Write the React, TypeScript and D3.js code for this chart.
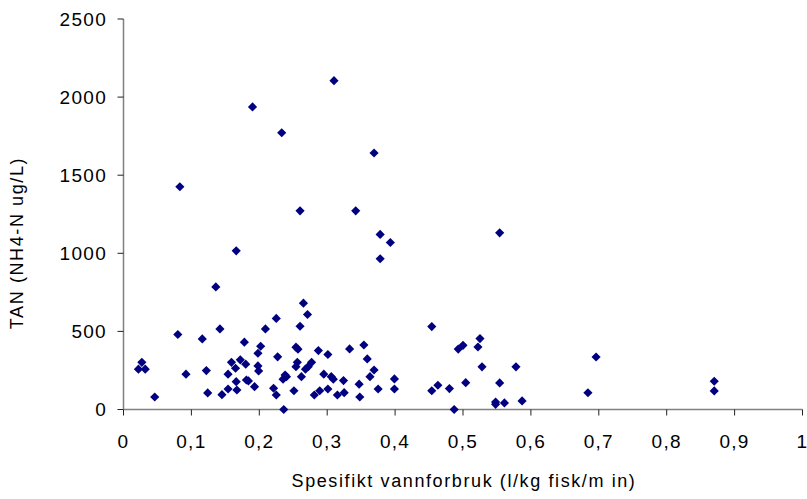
import React from "react";
import * as d3 from "d3";

const xValues: number[] = [
  0.310, 0.190, 0.233, 0.369, 0.083, 0.260, 0.342, 0.554, 0.378, 0.393,
  0.166, 0.378, 0.136, 0.265, 0.271, 0.225, 0.260, 0.209, 0.142, 0.454,
  0.080, 0.116, 0.525, 0.522, 0.500, 0.493, 0.178, 0.202, 0.354, 0.254,
  0.257, 0.287, 0.333, 0.301, 0.198, 0.227, 0.359, 0.696, 0.027, 0.022,
  0.032, 0.046, 0.092, 0.122, 0.124, 0.145, 0.154, 0.154, 0.159, 0.172,
  0.180, 0.165, 0.166, 0.167, 0.181, 0.184, 0.193, 0.198, 0.199, 0.221,
  0.225, 0.235, 0.238, 0.236, 0.240, 0.256, 0.254, 0.277, 0.272, 0.268,
  0.262, 0.295, 0.306, 0.309, 0.324, 0.251, 0.281, 0.289, 0.301, 0.315,
  0.325, 0.347, 0.348, 0.369, 0.363, 0.375, 0.399, 0.399, 0.454, 0.463,
  0.480, 0.487, 0.504, 0.554, 0.528, 0.578, 0.548, 0.548, 0.561, 0.587,
  0.684, 0.870, 0.870,
];

const yValues: number[] = [
  2105, 1937, 1772, 1642, 1426, 1272, 1272, 1131, 1121, 1069,
  1016, 965, 785, 681, 608, 583, 533, 516, 516, 531,
  480, 452, 454, 400, 411, 387, 431, 405, 413, 399,
  386, 377, 388, 352, 360, 337, 324, 336, 302, 258,
  258, 80, 226, 249, 106, 95, 226, 131, 302, 318,
  290, 264, 178, 125, 189, 183, 146, 279, 247, 136,
  93, 194, 221, 0, 210, 302, 274, 302, 274, 258,
  210, 226, 210, 194, 185, 120, 93, 120, 131, 93,
  108, 162, 80, 253, 210, 131, 196, 131, 120, 155,
  134, 0, 172, 170, 273, 273, 33, 48, 42, 55,
  107, 181, 119,
];

const xTicks: number[] = [0, 0.1, 0.2, 0.3, 0.4, 0.5, 0.6, 0.7, 0.8, 0.9, 1];
const xTickLabels: string[] = ["0", "0,1", "0,2", "0,3", "0,4", "0,5", "0,6", "0,7", "0,8", "0,9", "1"];
const yTicks: number[] = [0, 500, 1000, 1500, 2000, 2500];
const yTickLabels: string[] = ["0", "500", "1000", "1500", "2000", "2500"];

const xTitle = "Spesifikt vannforbruk (l/kg fisk/m in)";
const yTitle = "TAN (NH4-N ug/L)";

export default function App() {
  const W = 807;
  const H = 499;
  const x = d3.scaleLinear().domain([0, 1]).range([123.5, 802.5]);
  const y = d3.scaleLinear().domain([0, 2500]).range([409.5, 19]);
  const diamond = d3.symbol().type(d3.symbolSquare).size(42)() as string;
  const font = "'Liberation Sans', Arial, sans-serif";
  const points = xValues.map((v, i) => [v, yValues[i]] as [number, number]);

  return (
    <svg
      width={W}
      height={H}
      style={{ position: "absolute", left: 0, top: 0, background: "#fff" }}
      fontFamily={font}
    >
      <rect x={0} y={0} width={W} height={H} fill="#fff" />
      {/* y axis */}
      <line x1={x(0)} x2={x(0)} y1={y(2500)} y2={y(0)} stroke="#808080" strokeWidth={1.5} />
      {yTicks.map((t, i) => (
        <g key={"yt" + i}>
          <line x1={x(0) - 6} x2={x(0)} y1={y(t)} y2={y(t)} stroke="#222" strokeWidth={1} />
          <text
            x={107}
            y={y(t)}
            dy="0.36em"
            textAnchor="end"
            fontSize={19}
            letterSpacing={1.3}
            fill="#000"
          >
            {yTickLabels[i]}
          </text>
        </g>
      ))}
      {/* x axis */}
      <line x1={x(0)} x2={x(1)} y1={y(0)} y2={y(0)} stroke="#808080" strokeWidth={1.5} />
      {xTicks.map((t, i) => (
        <g key={"xt" + i}>
          <line x1={x(t)} x2={x(t)} y1={y(0)} y2={y(0) + 6} stroke="#222" strokeWidth={1} />
          <text
            x={x(t)}
            y={448}
            textAnchor="middle"
            fontSize={19}
            letterSpacing={1.3}
            fill="#000"
          >
            {xTickLabels[i]}
          </text>
        </g>
      ))}
      {/* points */}
      {points.map((p, i) => (
        <path
          key={"p" + i}
          d={diamond}
          transform={`translate(${x(p[0])},${y(p[1])}) rotate(45)`}
          fill="#000080"
        />
      ))}
      {/* titles */}
      <text x={464} y={487} textAnchor="middle" fontSize={18} letterSpacing={1.6} fill="#000">
        {xTitle}
      </text>
      <text
        transform={`translate(23,243) rotate(-90)`}
        textAnchor="middle"
        fontSize={18}
        letterSpacing={1.6}
        fill="#000"
      >
        {yTitle}
      </text>
    </svg>
  );
}
